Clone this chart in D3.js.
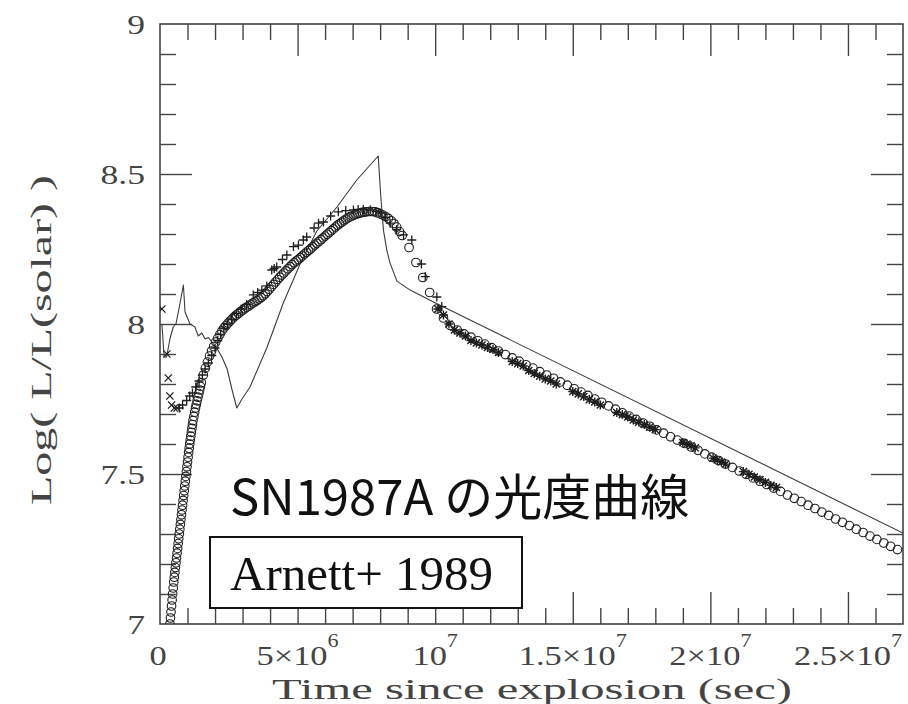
<!DOCTYPE html>
<html>
<head>
<meta charset="utf-8">
<script src="https://cdn.jsdelivr.net/npm/d3@7"></script>
<style>
  html, body { margin: 0; padding: 0; background: #fff; }
  svg { display: block; }
</style>
</head>
<body>
<svg id="chart" width="908" height="704"></svg>
<script>
// Time in units of 1e6 s, luminosity as log10(L / L_sun)

// thin solid line: model light curve
const modelLine = [
  [0.07, 8.00], [0.15, 7.89], [0.24, 7.89], [0.36, 7.95], [0.48, 7.99], [0.58, 8.00],
  [0.73, 8.07], [0.85, 8.13], [0.91, 8.04], [1.09, 8.00], [1.27, 7.99], [1.39, 7.96],
  [1.52, 7.97], [1.64, 7.95], [1.76, 7.955], [1.88, 7.94], [2.06, 7.92], [2.25, 7.89],
  [2.44, 7.85], [2.62, 7.78], [2.79, 7.72], [2.98, 7.75], [3.27, 7.79], [3.88, 7.92],
  [4.48, 8.07], [5.09, 8.20], [5.70, 8.31], [6.43, 8.39], [7.15, 8.48], [7.93, 8.56],
  [8.02, 8.43], [8.12, 8.313], [8.24, 8.247], [8.36, 8.203], [8.61, 8.143], [9.09, 8.113],
  [9.94, 8.073], [27.0, 7.303]
];

// open circles: second model light curve
const modelCircles = [
  [0.36, 7.000], [0.38, 7.020], [0.40, 7.040], [0.42, 7.060], [0.44, 7.080], [0.46, 7.100],
  [0.48, 7.120], [0.50, 7.140], [0.52, 7.156], [0.54, 7.172], [0.56, 7.188], [0.58, 7.204],
  [0.60, 7.220], [0.62, 7.236], [0.64, 7.252], [0.66, 7.268], [0.68, 7.284], [0.70, 7.300],
  [0.72, 7.316], [0.74, 7.332], [0.76, 7.348], [0.78, 7.364], [0.80, 7.380], [0.82, 7.396],
  [0.84, 7.412], [0.86, 7.428], [0.88, 7.444], [0.90, 7.460], [0.92, 7.476], [0.94, 7.492],
  [0.96, 7.508], [0.98, 7.524], [1.00, 7.540], [1.02, 7.556], [1.04, 7.572], [1.06, 7.586],
  [1.08, 7.600], [1.10, 7.613], [1.12, 7.626], [1.14, 7.639], [1.16, 7.652], [1.18, 7.665],
  [1.20, 7.678], [1.23, 7.692], [1.26, 7.706], [1.29, 7.720], [1.32, 7.732], [1.35, 7.744],
  [1.38, 7.756], [1.41, 7.768], [1.44, 7.780], [1.47, 7.792], [1.50, 7.804],
  [1.575, 7.830], [1.65, 7.853], [1.725, 7.873], [1.80, 7.893], [1.875, 7.910], [1.95, 7.925],
  [2.025, 7.940], [2.10, 7.953], [2.175, 7.965], [2.25, 7.977], [2.325, 7.987], [2.40, 7.995],
  [2.475, 8.003], [2.55, 8.010], [2.625, 8.017], [2.70, 8.024], [2.775, 8.030], [2.85, 8.035],
  [2.925, 8.041], [3.00, 8.046], [3.075, 8.051], [3.15, 8.056], [3.225, 8.060], [3.30, 8.065],
  [3.375, 8.070], [3.45, 8.074], [3.525, 8.078], [3.60, 8.083], [3.675, 8.088], [3.75, 8.094],
  [3.825, 8.101], [3.90, 8.108], [3.975, 8.116], [4.05, 8.124], [4.125, 8.132], [4.20, 8.140],
  [4.275, 8.148], [4.35, 8.156], [4.425, 8.163], [4.50, 8.170], [4.575, 8.177], [4.65, 8.184],
  [4.725, 8.191], [4.80, 8.198], [4.875, 8.204], [4.95, 8.210], [5.025, 8.215], [5.10, 8.221],
  [5.175, 8.227], [5.25, 8.233], [5.325, 8.239], [5.40, 8.245], [5.475, 8.251], [5.55, 8.257],
  [5.625, 8.263], [5.70, 8.269], [5.775, 8.275], [5.85, 8.281], [5.925, 8.287], [6.00, 8.293],
  [6.075, 8.299], [6.15, 8.305], [6.225, 8.311], [6.30, 8.317], [6.375, 8.323], [6.45, 8.329],
  [6.525, 8.334], [6.60, 8.339], [6.675, 8.344], [6.75, 8.349], [6.825, 8.353], [6.90, 8.357],
  [6.975, 8.360], [7.05, 8.363], [7.125, 8.366], [7.20, 8.368], [7.275, 8.370], [7.35, 8.372],
  [7.425, 8.373], [7.50, 8.374], [7.60, 8.375], [7.70, 8.375], [7.80, 8.374], [7.90, 8.371],
  [8.00, 8.367], [8.10, 8.363], [8.20, 8.358], [8.30, 8.352], [8.40, 8.344], [8.50, 8.335],
  [8.60, 8.323], [8.70, 8.308], [8.80, 8.295], [9.05, 8.255], [9.30, 8.205], [9.55, 8.155],
  [9.80, 8.105], [10.05, 8.05], [10.30, 8.02], [10.55, 7.995], [10.80, 7.98], [11.05, 7.967],
  [11.30, 7.956], [11.55, 7.944], [11.80, 7.933], [12.05, 7.921], [12.30, 7.910], [12.55, 7.898],
  [12.80, 7.887], [13.05, 7.876], [13.30, 7.864], [13.55, 7.853], [13.80, 7.841], [14.05, 7.830],
  [14.30, 7.819], [14.55, 7.807], [14.80, 7.796], [15.05, 7.784], [15.30, 7.773], [15.55, 7.762],
  [15.80, 7.750], [16.05, 7.739], [16.30, 7.727], [16.55, 7.716], [16.80, 7.704], [17.05, 7.693],
  [17.30, 7.682], [17.55, 7.670], [17.80, 7.659], [18.05, 7.647], [18.30, 7.636], [18.55, 7.624],
  [18.80, 7.613], [19.05, 7.602], [19.30, 7.590], [19.55, 7.579], [19.80, 7.567], [20.05, 7.556],
  [20.30, 7.545], [20.55, 7.533], [20.80, 7.522], [21.05, 7.510], [21.30, 7.499], [21.55, 7.487],
  [21.80, 7.476], [22.05, 7.465], [22.30, 7.453], [22.55, 7.442], [22.80, 7.430], [23.05, 7.419],
  [23.30, 7.408], [23.55, 7.396], [23.80, 7.385], [24.05, 7.373], [24.30, 7.362], [24.55, 7.350],
  [24.80, 7.339], [25.05, 7.328], [25.30, 7.316], [25.55, 7.305], [25.80, 7.293], [26.05, 7.282],
  [26.30, 7.270], [26.55, 7.259], [26.80, 7.248]
];

// "x" marks: earliest observations
const earlyCrosses = [
  [0.07, 8.05], [0.25, 7.90], [0.30, 7.82], [0.36, 7.76], [0.42, 7.73], [0.52, 7.72], [0.62, 7.72]
];

// "+" marks: observations through the rise and peak
const risePluses = [
  [0.70, 7.72], [0.82, 7.73], [0.97, 7.745], [1.08, 7.76], [1.18, 7.77], [1.30, 7.79],
  [1.42, 7.81], [1.54, 7.83], [1.64, 7.85], [1.76, 7.87], [1.88, 7.895], [2.00, 7.92],
  [2.10, 7.945], [2.20, 7.965], [2.32, 7.985], [2.45, 8.00], [2.60, 8.015], [2.78, 8.035],
  [2.95, 8.05], [3.15, 8.065], [3.39, 8.097], [3.55, 8.105], [3.70, 8.113], [3.88, 8.127],
  [4.06, 8.18], [4.15, 8.185], [4.24, 8.19], [4.45, 8.215], [4.61, 8.23], [4.85, 8.258],
  [5.03, 8.263], [5.21, 8.28], [5.33, 8.29], [5.60, 8.32], [5.76, 8.336], [5.94, 8.34],
  [6.20, 8.36], [6.48, 8.374], [6.75, 8.378], [7.03, 8.38], [7.20, 8.382], [7.39, 8.382],
  [7.64, 8.38], [7.85, 8.375], [8.00, 8.37], [8.20, 8.355], [8.36, 8.336], [8.60, 8.315],
  [8.85, 8.297], [9.15, 8.28], [9.50, 8.20], [9.64, 8.158], [10.06, 8.09], [10.24, 8.058]
];

// "*" marks: observations along the radioactive tail
const tailStars = [
  [10.10, 8.05], [10.30, 8.03], [10.50, 8.00], [10.70, 7.98], [10.90, 7.97], [11.10, 7.96],
  [11.30, 7.945], [11.50, 7.937], [11.70, 7.93], [11.90, 7.922], [12.10, 7.915], [12.30, 7.905],
  [12.80, 7.875], [13.00, 7.868], [13.20, 7.86], [13.40, 7.845], [13.60, 7.835], [13.80, 7.826],
  [14.00, 7.817], [14.20, 7.81], [14.40, 7.80], [15.00, 7.775], [15.20, 7.767], [15.40, 7.758],
  [15.60, 7.748], [15.80, 7.74], [16.00, 7.73], [16.60, 7.705], [16.80, 7.698], [17.00, 7.69],
  [17.20, 7.68], [17.40, 7.673], [17.60, 7.665], [17.80, 7.656], [18.00, 7.648], [19.00, 7.605],
  [19.15, 7.60], [19.30, 7.594], [19.45, 7.587], [20.10, 7.553], [20.25, 7.547], [20.40, 7.54],
  [20.55, 7.533], [21.20, 7.508], [21.40, 7.499], [21.60, 7.49], [21.80, 7.481], [22.00, 7.472],
  [22.20, 7.462], [22.40, 7.455]
];

const xMajorTicks = [0, 5e6, 1e7, 1.5e7, 2e7, 2.5e7];
const xTickMantissa = ["0", "5×10", "10", "1.5×10", "2×10", "2.5×10"];
const xTickExponent = ["", "6", "7", "7", "7", "7"];
const yMajorTicks = [7, 7.5, 8, 8.5, 9];
const yTickLabels = ["7", "7.5", "8", "8.5", "9"];

const TIME_UNIT = 1e6;
const frame = { left: 160, right: 903, top: 24, bottom: 624 };
const ink = "#1e1e1e";
const axisInk = "#444";
const textInk = "#444";
const serif = "'Liberation Serif', 'DejaVu Serif', serif";

const svg = d3.select("#chart");

const x = d3.scaleLinear().domain([0, 2.7e7]).range([frame.left, frame.right]);
const y = d3.scaleLinear().domain([7, 9]).range([frame.bottom, frame.top]);
const px = d => x(d[0] * TIME_UNIT);
const py = d => y(d[1]);

svg.append("defs").append("clipPath").attr("id", "plot-clip")
  .append("rect")
  .attr("x", frame.left).attr("y", frame.top)
  .attr("width", frame.right - frame.left).attr("height", frame.bottom - frame.top);

// ---- ticks on all four sides, pointing inward ----
const xMinor = d3.range(1e6, 2.7e7, 1e6).filter(v => v % 5e6 !== 0);
const xMajor = xMajorTicks.filter(v => v > 0);
const yMinor = d3.range(71, 90).map(v => v / 10).filter(v => Math.round(v * 10) % 5 !== 0);
const yMajor = yMajorTicks.filter(v => v > 7 && v < 9);

function tickGroup(axis, transform) {
  const g = svg.append("g").attr("transform", transform).call(axis);
  g.select(".domain").remove();
  g.selectAll(".tick line").attr("stroke", axisInk).attr("stroke-width", 1.4);
  g.selectAll(".tick text").remove();
  return g;
}
const minorLen = 16, majorLen = 32;
tickGroup(d3.axisBottom(x).tickValues(xMinor).tickSize(-minorLen), `translate(0,${frame.bottom})`);
tickGroup(d3.axisBottom(x).tickValues(xMajor).tickSize(-majorLen), `translate(0,${frame.bottom})`);
tickGroup(d3.axisTop(x).tickValues(xMinor).tickSize(-minorLen), `translate(0,${frame.top})`);
tickGroup(d3.axisTop(x).tickValues(xMajor).tickSize(-majorLen), `translate(0,${frame.top})`);
tickGroup(d3.axisLeft(y).tickValues(yMinor).tickSize(-minorLen), `translate(${frame.left},0)`);
tickGroup(d3.axisLeft(y).tickValues(yMajor).tickSize(-majorLen), `translate(${frame.left},0)`);
tickGroup(d3.axisRight(y).tickValues(yMinor).tickSize(-minorLen), `translate(${frame.right},0)`);
tickGroup(d3.axisRight(y).tickValues(yMajor).tickSize(-majorLen), `translate(${frame.right},0)`);

svg.append("rect")
  .attr("x", frame.left).attr("y", frame.top)
  .attr("width", frame.right - frame.left).attr("height", frame.bottom - frame.top)
  .attr("fill", "none").attr("stroke", axisInk).attr("stroke-width", 1.6);

// ---- tick labels (wide plotter-style lettering) ----
const xLab = svg.append("g")
  .attr("font-family", serif).attr("fill", textInk).attr("text-anchor", "middle");
xMajorTicks.forEach((v, i) => {
  const t = xLab.append("text")
    .attr("transform", `translate(${x(v) - (i === 0 ? 2 : 0)},665) scale(1.23,1)`)
    .attr("font-size", 28);
  t.append("tspan").text(xTickMantissa[i]);
  if (xTickExponent[i]) {
    t.append("tspan").attr("dy", -18).attr("font-size", 18).text(xTickExponent[i]);
  }
});

svg.append("g")
  .attr("font-family", serif).attr("fill", textInk).attr("text-anchor", "end")
  .selectAll("text").data(yMajorTicks).join("text")
  .attr("transform", d => `translate(145,${y(d) + 9.5}) scale(1.32,1)`)
  .attr("font-size", 27)
  .text((d, i) => yTickLabels[i]);

// ---- axis titles ----
svg.append("text")
  .attr("x", 272).attr("y", 699)
  .attr("font-family", serif).attr("font-size", 29).attr("fill", textInk)
  .attr("textLength", 520).attr("lengthAdjust", "spacingAndGlyphs")
  .text("Time since explosion (sec)");

svg.append("text")
  .attr("transform", "translate(51,505) rotate(-90)")
  .attr("font-family", serif).attr("font-size", 30).attr("fill", textInk)
  .attr("textLength", 330).attr("lengthAdjust", "spacingAndGlyphs")
  .text("Log( L/L(solar) )");

// ---- data ----
const plot = svg.append("g").attr("clip-path", "url(#plot-clip)");

plot.append("path")
  .datum(modelLine)
  .attr("fill", "none").attr("stroke", "#3c3c3c").attr("stroke-width", 1.1)
  .attr("stroke-linejoin", "round")
  .attr("d", d3.line().x(px).y(py));

plot.append("g").selectAll("circle").data(modelCircles).join("circle")
  .attr("cx", px).attr("cy", py).attr("r", 4.3)
  .attr("fill", "none").attr("stroke", ink).attr("stroke-width", 1.1);

const plusPath = "M-4.5,0H4.5M0,-4.5V4.5";
const crossPath = "M-3.6,-3.6L3.6,3.6M-3.6,3.6L3.6,-3.6";

plot.append("g").selectAll("path").data(earlyCrosses).join("path")
  .attr("transform", d => `translate(${px(d)},${py(d)})`)
  .attr("d", crossPath).attr("stroke", ink).attr("stroke-width", 1.3).attr("fill", "none");

plot.append("g").selectAll("path").data(risePluses).join("path")
  .attr("transform", d => `translate(${px(d)},${py(d)})`)
  .attr("d", plusPath).attr("stroke", ink).attr("stroke-width", 1.3).attr("fill", "none");

plot.append("g").selectAll("path").data(tailStars).join("path")
  .attr("transform", d => `translate(${px(d)},${py(d)})`)
  .attr("d", plusPath + crossPath).attr("stroke", ink).attr("stroke-width", 1.4).attr("fill", "none");

// ---- annotations ----
svg.append("text")
  .attr("x", 230).attr("y", 515)
  .attr("font-family", "'Noto Sans CJK JP', 'Noto Sans', sans-serif")
  .attr("font-size", 49).attr("fill", "#111")
  .text("SN1987A の光度曲線");

svg.append("rect")
  .attr("x", 210).attr("y", 537).attr("width", 312).attr("height", 71)
  .attr("fill", "#fff").attr("stroke", "#111").attr("stroke-width", 2);

svg.append("text")
  .attr("x", 230).attr("y", 590)
  .attr("font-family", "'Liberation Serif', 'DejaVu Serif', serif")
  .attr("font-size", 49).attr("fill", "#111")
  .text("Arnett+ 1989");
</script>
</body>
</html>
